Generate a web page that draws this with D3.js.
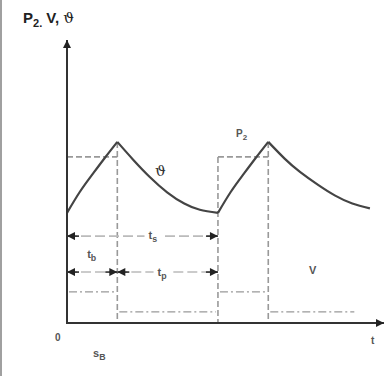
<!DOCTYPE html>
<html>
<head>
<meta charset="utf-8">
<script src="https://cdn.jsdelivr.net/npm/d3@7"></script>
<style>
  body { margin: 0; background: #fff; }
  svg { display: block; }
</style>
</head>
<body>
<div id="chart"></div>
<script>
// time in units of t_b, value in arbitrary units
const thetaHeat1 = [[0, 3.89], [0.25, 4.62], [0.5, 5.24], [0.75, 5.83], [1, 6.40]]
const thetaCool1 = [[1, 6.40], [1.31, 5.78], [1.65, 5.15], [1.99, 4.62], [2.33, 4.22], [2.64, 4.00], [3, 3.89]]
const thetaHeat2 = [[3, 3.89], [3.25, 4.62], [3.5, 5.24], [3.75, 5.83], [4, 6.40]]
const thetaCool2 = [[4, 6.40], [4.33, 5.80], [4.63, 5.34], [4.99, 4.88], [5.33, 4.50], [5.67, 4.22], [6.02, 4.05]]

// P2 on intervals and level
const p2On = [[0, 1], [3, 4]]
const p2Level = 5.87
// V steps: [start, end, value]
const vSteps = [[0, 1, 1.1], [1, 3, 0.39], [3, 4, 1.1], [4, 5.75, 0.39]]
// switching instants with top of the dashed marker
const switchTimes = [[1, 6.40], [3, 5.87], [4, 6.40]]
// time spans: [from, to, level]
const spans = [[0, 3, 3.07], [0, 1, 1.8], [1, 3, 1.8]]

const width = 385, height = 376

const x = d3.scaleLinear().domain([0, 6.3]).range([67, 384])
const y = d3.scaleLinear().domain([0, 10]).range([323, 40])

const svg = d3.select("#chart").append("svg")
    .attr("width", width)
    .attr("height", height)

const defs = svg.append("defs")
defs.append("marker")
    .attr("id", "arr")
    .attr("viewBox", "0 0 10 10")
    .attr("refX", 10).attr("refY", 5)
    .attr("markerWidth", 11).attr("markerHeight", 8)
    .attr("markerUnits", "userSpaceOnUse")
    .attr("orient", "auto-start-reverse")
    .append("path")
    .attr("d", "M0,0L10,5L0,10Z")
    .attr("fill", "#222")

// left gray frame line
svg.append("rect").attr("x", 0).attr("y", 0).attr("width", 2).attr("height", height).attr("fill", "#a0a0a0")

// dashed P2 boxes
p2On.forEach(d => {
    svg.append("line")
        .attr("x1", x(d[0])).attr("x2", x(d[1]))
        .attr("y1", y(p2Level)).attr("y2", y(p2Level))
        .attr("stroke", "#999").attr("stroke-width", 1.6)
        .attr("stroke-dasharray", "6,3")
})
svg.selectAll(".sw")
    .data(switchTimes)
    .join("line")
    .attr("x1", d => x(d[0])).attr("x2", d => x(d[0]))
    .attr("y1", d => y(d[1])).attr("y2", y(0))
    .attr("stroke", "#999").attr("stroke-width", 1.6)
    .attr("stroke-dasharray", "6,3")

// V dash-dot steps
svg.selectAll(".vstep")
    .data(vSteps)
    .join("line")
    .attr("x1", d => x(d[0]) + 2).attr("x2", d => x(d[1]) - 2)
    .attr("y1", d => y(d[2])).attr("y2", d => y(d[2]))
    .attr("stroke", "#999").attr("stroke-width", 1.3)
    .attr("stroke-dasharray", "8,3,2,3")

// theta curve
const line = d3.line()
    .x(d => x(d[0]))
    .y(d => y(d[1]))
    .curve(d3.curveNatural)
const segs = [thetaHeat1, thetaCool1, thetaHeat2, thetaCool2]
svg.selectAll(".theta")
    .data(segs)
    .join("path")
    .attr("d", line)
    .attr("fill", "none")
    .attr("stroke", "#444")
    .attr("stroke-width", 2.2)

// time span arrows
spans.forEach(d => {
    svg.append("line")
        .attr("x1", x(d[0])).attr("x2", x(d[1]))
        .attr("y1", y(d[2])).attr("y2", y(d[2]))
        .attr("stroke", "#bbb").attr("stroke-width", 1.6)
        .attr("stroke-dasharray", "10,4")
    svg.append("line")
        .attr("x1", x(d[0]) + 12).attr("x2", x(d[0]))
        .attr("y1", y(d[2])).attr("y2", y(d[2]))
        .attr("stroke", "#222").attr("stroke-width", 1.5)
        .attr("marker-end", "url(#arr)")
    svg.append("line")
        .attr("x1", x(d[1]) - 12).attr("x2", x(d[1]))
        .attr("y1", y(d[2])).attr("y2", y(d[2]))
        .attr("stroke", "#222").attr("stroke-width", 1.5)
        .attr("marker-end", "url(#arr)")
})

// axes
svg.append("line")
    .attr("x1", x(0)).attr("x2", x(0))
    .attr("y1", y(0) + 1).attr("y2", y(10))
    .attr("stroke", "#333").attr("stroke-width", 2)
    .attr("marker-end", "url(#arr)")
svg.append("line")
    .attr("x1", x(0) - 1).attr("x2", x(6.3))
    .attr("y1", y(0)).attr("y2", y(0))
    .attr("stroke", "#333").attr("stroke-width", 2)
    .attr("marker-end", "url(#arr)")

// labels
const lab = (tx, ty, main, sub, size) => {
    const s = size || 10
    const t = svg.append("text")
        .attr("x", tx).attr("y", ty)
        .attr("font-family", "Liberation Sans, Arial, sans-serif")
        .attr("font-weight", "bold")
        .attr("font-size", s)
        .attr("fill", "#555")
        .text(main)
    if (sub) t.append("tspan").attr("dy", 3).attr("font-size", s * 0.8).text(sub)
    return t
}

// t_s label sits in a gap of the span line
svg.append("rect")
    .attr("x", x(1.62) - 4).attr("y", y(3.07) - 7)
    .attr("width", 18).attr("height", 14)
    .attr("fill", "#fff")
lab(x(1.62), y(3.07) + 3, "t", "s", 11)
lab(x(0.5) - 5, 258, "t", "b", 11)
svg.append("rect")
    .attr("x", x(1.8) - 4).attr("y", y(1.8) - 7)
    .attr("width", 18).attr("height", 14)
    .attr("fill", "#fff")
lab(x(1.8), y(1.8) + 4, "t", "p", 11)

lab(236, 137, "P", "2", 10)
lab(309, 274, "V", null, 11)
lab(55, 341, "0", null, 10)
lab(371, 344, "t", null, 10)
lab(93, 357, "s", "B", 11)

svg.append("text")
    .attr("x", 155).attr("y", 176)
    .attr("font-family", "DejaVu Serif, serif")
    .attr("font-size", 15)
    .attr("fill", "#333")
    .text("ϑ")

// title
const title = svg.append("text")
    .attr("x", 23).attr("y", 23)
    .attr("font-family", "Liberation Sans, Arial, sans-serif")
    .attr("font-weight", "bold")
    .attr("font-size", 15)
    .attr("fill", "#222")
title.append("tspan").text("P")
title.append("tspan").attr("dy", 4).attr("font-size", 11).text("2.")
title.append("tspan").attr("dy", -4).text(" V, ")
title.append("tspan")
    .attr("font-family", "DejaVu Serif, serif")
    .attr("font-weight", "normal")
    .text("ϑ")
</script>
</body>
</html>
